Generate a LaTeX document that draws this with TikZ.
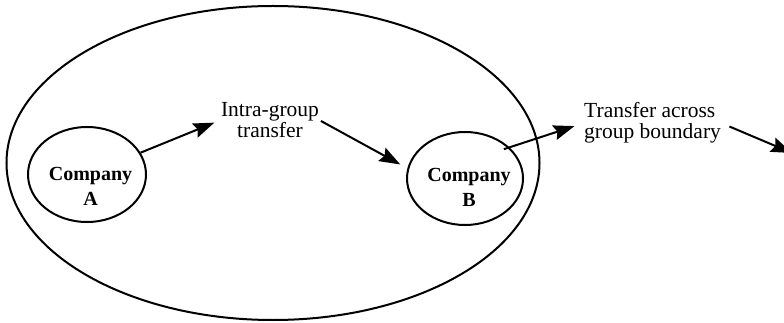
\documentclass[tikz,border=0pt]{standalone}
\usepackage{fontspec}
\setmainfont{Liberation Serif}
\usetikzlibrary{shapes.geometric,arrows.meta}
\begin{document}
\begin{tikzpicture}[x=1pt,y=-1pt,
  ring/.style={draw,ellipse,line width=2pt,inner sep=0pt},
  ctext/.style={font=\fontsize{20}{25}\selectfont\bfseries,align=center,inner sep=0pt},
  ttext/.style={font=\fontsize{21.5}{21}\selectfont,inner sep=0pt},
  flow/.style={line width=2pt,-{Stealth[length=21pt,width=15pt,inset=3pt]}}]
\useasboundingbox (0,0) rectangle (784,323);
\clip (0,0) rectangle (784,323);

% group boundary and the two companies
\node[ring,minimum width=533pt,minimum height=314pt] (group) at (273,163) {};
\node[ring,minimum width=118pt,minimum height=95pt] (A) at (87,174.5) {};
\node[ring,minimum width=116pt,minimum height=93pt] (B) at (465,178.5) {};
\node[ctext] (Atext) at (90.5,186.7) {Company\\A};
\node[ctext] (Btext) at (469,187.5) {Company\\B};

% flow labels
\node[ttext,align=center] (intra) at (270,120) {Intra-group\\transfer\hspace{6pt}};
\node[ttext,align=left,anchor=west] (across) at (584,123) {Transfer across\\group boundary};
\coordinate (exit) at (792,153);

% transfers
\draw[flow,shorten >=7pt] (A) -- (intra.west);
\draw[flow,shorten <=2pt,shorten >=8pt] (intra.east) -- (B.170);
\draw[flow,shorten <=-6pt,shorten >=10pt] (B.35) -- (across.west);
\draw[flow,shorten <=9pt] (across.east) -- (exit);
\end{tikzpicture}
\end{document}
